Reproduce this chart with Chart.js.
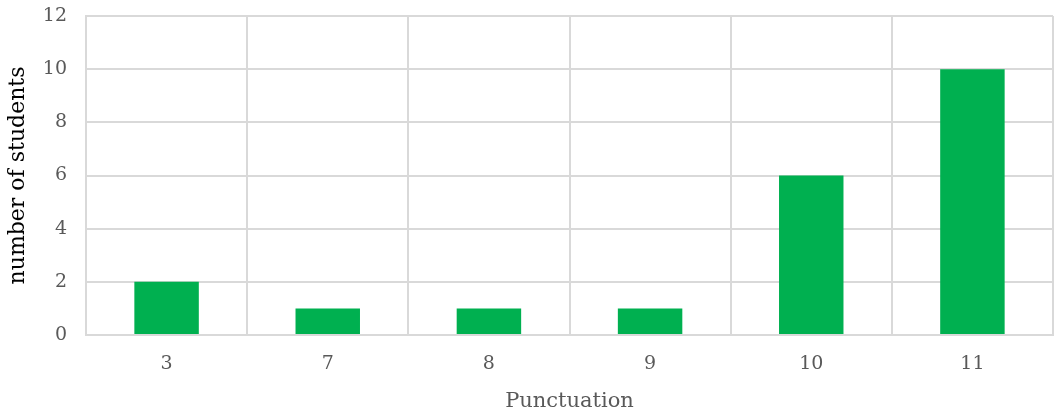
<!DOCTYPE html>
<html>
<head>
<meta charset="utf-8">
<script src="https://cdn.jsdelivr.net/npm/chart.js@4"></script>
<style>
  html, body { margin: 0; padding: 0; background: #fff; }
  #wrap { width: 1055px; height: 416px; }
</style>
</head>
<body>
<div id="wrap"><canvas id="chart" width="1055" height="416"></canvas></div>
<script>
const categories = ['3', '7', '8', '9', '10', '11'];
const students = [2, 1, 1, 1, 6, 10];
const yTicks = [0, 2, 4, 6, 8, 10, 12];

const font = '"DejaVu Serif", "Liberation Serif", serif';
const gridColor = '#d9d9d9';

new Chart(document.getElementById('chart'), {
    type: 'bar',
    data: {
        labels: categories,
        datasets: [{
            label: 'number of students',
            data: students,
            backgroundColor: '#00b050',
            borderWidth: 0,
            barPercentage: 0.4,
            categoryPercentage: 1
        }]
    },
    options: {
        responsive: false,
        animation: false,
        layout: { padding: { top: 0, right: 2, left: 0, bottom: 0 } },
        plugins: { legend: { display: false }, tooltip: { enabled: false } },
        scales: {
            x: {
                grid: { color: gridColor, lineWidth: 2, offset: true, drawTicks: false },
                border: { color: gridColor, width: 2 },
                ticks: { color: '#595959', font: { family: font, size: 19 }, padding: 18 },
                title: { display: true, text: 'Punctuation', color: '#595959',
                         font: { family: font, size: 21 }, padding: { top: 0, bottom: 2 } },
                // fixed height so the plot ends where the original does
                afterFit: axis => { axis.height = 81; }
            },
            y: {
                min: 0,
                max: 12,
                afterBuildTicks: axis => { axis.ticks = yTicks.map(v => ({ value: v })); },
                grid: { color: gridColor, lineWidth: 2, drawTicks: false },
                border: { color: gridColor, width: 2 },
                ticks: { color: '#595959', font: { family: font, size: 19 }, padding: 19 },
                title: { display: true, text: 'number of students', color: '#000',
                         font: { family: font, size: 22 }, padding: { top: 5, bottom: 0 } },
                afterFit: axis => {
                    axis.width = 86;
                    axis.paddingTop = 16;
                }
            }
        }
    }
});
</script>
</body>
</html>
